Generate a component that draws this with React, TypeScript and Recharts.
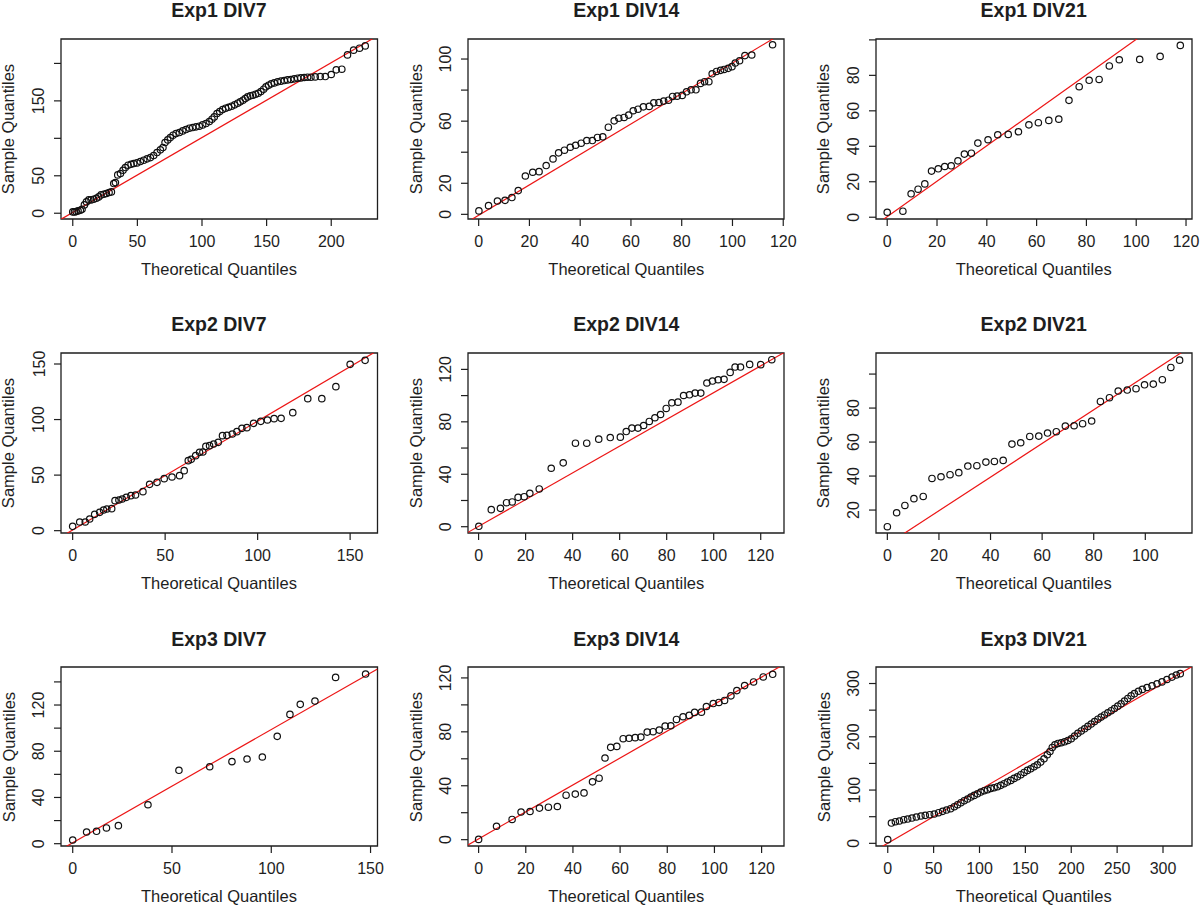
import { ScatterChart, Scatter, XAxis, YAxis, ReferenceLine, ReferenceArea } from "recharts";

// theoretical (x) and sample (y) quantiles
const exp1Div7X = [0, 1.3, 2.6, 4.1, 5.9, 7.2, 9.0, 10.6, 12.4, 14.2, 16.2, 18.3, 20.1, 21.9, 24.0, 26.0, 28.1, 29.9, 31.7, 33.0, 34.8, 36.9, 38.9, 40.7, 42.8, 45.1, 47.2, 49.7, 52.3, 54.9, 57.5, 60.1, 62.6, 65.2, 67.8, 69.8, 71.4, 73.5, 75.5, 77.6, 79.9, 82.5, 85.1, 87.6, 90.2, 92.8, 95.4, 97.9, 100.5, 103.1, 105.7, 107.7, 109.5, 111.6, 113.7, 116.0, 118.3, 120.6, 122.9, 125.3, 127.6, 129.6, 131.7, 133.5, 135.3, 137.4, 139.4, 141.5, 143.6, 145.6, 147.7, 149.5, 151.5, 153.6, 155.9, 158.5, 161.1, 163.7, 166.2, 168.8, 171.4, 174.0, 176.5, 179.1, 181.7, 184.3, 187.6, 191.5, 195.4, 200.0, 203.9, 208.2, 212.6, 217.3, 221.9, 226.3];
const exp1Div7Y = [1.8, 1.8, 2.2, 3.1, 4.0, 5.3, 11.1, 15.1, 17.8, 17.8, 18.7, 20.0, 21.8, 24.5, 25.4, 26.3, 27.6, 28.5, 39.6, 40.9, 51.2, 53.0, 57.4, 61.0, 64.1, 65.4, 66.3, 67.2, 69.0, 70.8, 72.6, 74.3, 77.0, 81.0, 84.6, 87.7, 94.4, 97.9, 101.0, 104.2, 106.4, 107.7, 109.9, 111.7, 113.5, 114.4, 115.3, 116.2, 117.9, 119.7, 122.4, 125.5, 128.6, 133.1, 135.8, 138.4, 140.2, 141.5, 142.9, 144.7, 146.9, 148.7, 150.9, 153.1, 155.3, 156.7, 157.6, 158.9, 160.2, 162.5, 165.6, 168.7, 170.9, 172.7, 174.0, 175.4, 176.3, 177.1, 178.0, 178.5, 179.4, 180.3, 180.7, 181.2, 181.6, 181.6, 182.0, 182.5, 182.5, 185.2, 191.4, 192.3, 211.4, 217.7, 220.3, 223.4];

const exp1Div14X = [0.1, 3.9, 7.4, 10.4, 13.1, 15.6, 18.4, 21.3, 23.8, 26.6, 29.3, 31.5, 33.8, 36.1, 38.2, 40.4, 42.6, 44.8, 46.8, 48.9, 51.1, 53.4, 55.2, 57.3, 59.1, 60.9, 62.8, 64.9, 67.2, 69, 71, 72.9, 74.8, 76.4, 78.2, 80.2, 81.9, 83.7, 85.6, 87.4, 89, 90.7, 92, 93.7, 95.3, 96.7, 98.3, 99.8, 101.1, 102.8, 104.9, 107.6, 115.8];
const exp1Div14Y = [2.2, 5.6, 8.6, 9, 10.8, 15.3, 24.7, 27.1, 27.5, 31.4, 35.7, 39.6, 41.3, 43.2, 44.5, 45.8, 47.5, 47.5, 49.5, 49.9, 56.1, 60.2, 61.9, 62.4, 63.9, 66.7, 67.7, 69.2, 69.5, 71.8, 72, 72.9, 73.5, 75.9, 76.1, 76.6, 78.9, 80.2, 80.2, 84.3, 85.4, 85.4, 90.5, 92, 92.7, 93.3, 94, 95.1, 97.4, 98.9, 102.2, 102.6, 109.2];

const exp1Div21X = [0, 6.3, 9.6, 12.4, 15.1, 17.8, 20.5, 23.1, 25.7, 28.4, 31, 33.8, 36.4, 40.5, 44.4, 48.6, 52.7, 56.9, 60.7, 64.9, 68.9, 73, 77.1, 81.1, 85.1, 89.2, 93.2, 101.4, 109.6, 117.7];
const exp1Div21Y = [2.8, 3.4, 13.2, 15.8, 18.8, 26, 27.3, 28.6, 29, 31.8, 35.6, 36.1, 41.8, 43.7, 46.5, 46.7, 48.2, 52.1, 53.3, 54.6, 55.3, 65.9, 73.6, 77.2, 77.7, 85.3, 88.8, 89, 90.7, 96.9];

const exp2Div7X = [0, 3.8, 6.8, 9.2, 11.9, 14.6, 16.7, 18.5, 21.1, 22.9, 25, 26.8, 29, 31.5, 34, 38, 41.6, 45.6, 49.5, 53.7, 57.8, 60.3, 62.5, 64.1, 66.5, 68.6, 70.4, 72, 74, 76.2, 78.7, 81, 83.4, 86.3, 88.8, 91.5, 94.2, 97.8, 101.7, 105.3, 108.9, 112.7, 119, 127.1, 134.7, 142.3, 150, 158.1];
const exp2Div7Y = [3.9, 7.8, 7.8, 10.5, 14.7, 16.5, 18.6, 19.5, 19.8, 27, 27.6, 28.5, 30, 31.5, 32.1, 35.1, 41.7, 43.5, 46.8, 48.3, 49.5, 54, 63, 64.2, 67.5, 70.5, 70.8, 75.9, 76.5, 78, 79.5, 85.5, 85.8, 87, 89.1, 92.1, 92.7, 96.6, 98.4, 99.6, 100.8, 101.1, 106.2, 118.8, 118.8, 129.6, 149.7, 153.3];

const exp2Div14X = [0.1, 5.4, 9.3, 11.9, 14.3, 16.8, 19.4, 21.8, 25.8, 30.9, 36, 41.2, 46, 51.1, 56, 60.3, 62.8, 65.2, 67.8, 70.2, 72.6, 75, 77.4, 79.8, 82.2, 84.8, 87.2, 89.7, 92.1, 94.5, 97.1, 99.5, 101.9, 104.4, 107, 109.1, 111.4, 115.3, 120, 124.7];
const exp2Div14Y = [0.3, 13, 14, 18.3, 18.9, 22.4, 22.9, 25.5, 28.8, 44.6, 48.7, 63.7, 63.7, 66.8, 68, 68.3, 72.6, 75.2, 75.2, 77.2, 80.3, 83.1, 85.6, 90.2, 94.5, 95, 100.1, 100.6, 101.9, 101.9, 109.6, 111.1, 112.1, 112.4, 117.7, 121.8, 121.8, 123.8, 123.6, 127.4];

const exp2Div21X = [0, 3.6, 6.8, 10.3, 13.9, 17.3, 20.8, 24.3, 27.7, 31.2, 34.7, 38.2, 41.5, 44.9, 48.3, 51.7, 55.2, 58.7, 62.1, 65.5, 69, 72.4, 75.7, 79.2, 82.6, 86.1, 89.5, 93, 96.4, 99.7, 103.1, 106.6, 109.9, 113.3];
const exp2Div21Y = [10.2, 18.4, 22.7, 26.7, 28, 38.6, 39.6, 40.8, 42, 45.9, 46.1, 48.2, 48.6, 49.2, 58.8, 59.6, 63.3, 63.5, 65.3, 66.1, 69.4, 69.6, 70.8, 72.4, 83.9, 86.1, 90, 90.6, 91.4, 93.7, 94.1, 96.7, 103.9, 108.2];

const exp3Div7X = [0, 7, 12, 17, 23, 37.9, 53.5, 69, 80.2, 87.8, 95.5, 103, 109.4, 114.6, 122, 132.4, 147.5];
const exp3Div7Y = [3.2, 10.1, 10.7, 13.6, 15.6, 33.7, 63.5, 66.6, 71, 73.3, 75, 92.9, 111.9, 120.6, 123.4, 143.9, 146.8];

const exp3Div14X = [0, 7.6, 14.2, 18, 21.8, 25.8, 29.6, 33.4, 37.1, 41, 44.7, 48.3, 51.1, 53.6, 56, 58.6, 61.3, 63.8, 66.4, 68.8, 71.5, 74, 76.6, 79.1, 81.5, 83.9, 86.7, 89.3, 91.6, 94.5, 96.6, 99.5, 101.9, 104.3, 107, 109.5, 112.8, 116.6, 120.7, 124.7];
const exp3Div14Y = [0.2, 9.9, 15, 20.5, 20.9, 23.4, 24.1, 24.6, 33, 33.8, 34.7, 42.9, 45.6, 60.6, 68.5, 69.2, 74.9, 75.2, 75.7, 76.1, 79.8, 80.1, 81.3, 84.3, 84.5, 89.2, 91.2, 92.2, 94.4, 94.6, 98.8, 101, 101.8, 103.3, 106.7, 110.6, 114.3, 117, 120.7, 122.7];

const exp3Div21X = [0, 4, 8.3, 12.7, 17.4, 21.7, 26.4, 31.2, 36.2, 40.9, 45.7, 50.7, 55.4, 59.8, 64.1, 68.5, 72.5, 76.1, 79.7, 83.3, 87, 90.6, 94.2, 97.8, 101.4, 105.1, 108.7, 112.3, 115.9, 119.6, 123.2, 126.8, 130.4, 134.1, 137.7, 141.3, 145, 148.6, 152.2, 155.8, 159.4, 163, 166.7, 170.3, 173.9, 176.8, 179.3, 182.2, 185.5, 189.1, 192.8, 196.4, 200, 203.6, 207.2, 210.9, 214.5, 218.1, 221.7, 225.4, 229, 232.6, 236.2, 239.9, 243.5, 247.1, 250.7, 254.3, 258, 261.6, 265.2, 268.8, 273.2, 277.5, 282.6, 288, 293.5, 298.9, 304.3, 309.8, 314.5, 318.8];
const exp3Div21Y = [6.9, 38.1, 40.6, 41.9, 44.4, 45.6, 47.5, 49.4, 51.3, 52.5, 53.8, 55, 57.5, 60, 62.5, 65, 68.8, 72.5, 76.3, 80, 83.1, 86.9, 90, 93.1, 96.3, 98.8, 100.6, 103.1, 104.4, 106.3, 108.8, 111.9, 115, 118.1, 121.9, 125, 128.8, 133.1, 136.9, 140, 143.8, 147.5, 152.5, 158.8, 166.3, 172.5, 180, 185, 187.5, 188.8, 190.6, 193.1, 196.3, 201.3, 206.5, 211, 215, 219.5, 224, 228.5, 233, 237, 241, 245, 249, 253, 257.5, 262, 267, 272, 277, 281, 285.5, 289, 292.5, 295.6, 299.5, 303, 307.5, 312, 316, 318.5];

// tick values
const ticks0to120 = [0, 20, 40, 60, 80, 100, 120];
const ticks0to200 = [0, 50, 100, 150, 200];
const ticks0to150 = [0, 50, 100, 150];

// qqline: intercept a, slope b
const panels = [
  { title: "Exp1 DIV7", x: exp1Div7X, y: exp1Div7Y, xDomain: [-9.1, 235.8], yDomain: [-7.7, 232.6], xTicks: ticks0to200, yTicks: ticks0to200, yLabels: [0, 50, 150], a: 1.0, b: 1.0 },
  { title: "Exp1 DIV14", x: exp1Div14X, y: exp1Div14Y, xDomain: [-4.2, 120.3], yDomain: [-3, 112.9], xTicks: ticks0to120, yTicks: [0, 20, 40, 60, 80, 100], yLabels: [0, 20, 60, 100], a: -0.6, b: 0.98 },
  { title: "Exp1 DIV21", x: exp1Div21X, y: exp1Div21Y, xDomain: [-4.5, 122.4], yDomain: [-1, 100.5], xTicks: ticks0to120, yTicks: [0, 20, 40, 60, 80, 100], yLabels: [0, 20, 40, 60, 80], a: 0.3, b: 1.0 },
  { title: "Exp2 DIV7", x: exp2Div7X, y: exp2Div7Y, xDomain: [-6.3, 164.8], yDomain: [-2.1, 159.9], xTicks: ticks0to150, yTicks: ticks0to150, yLabels: ticks0to150, a: 0.6, b: 0.98 },
  { title: "Exp2 DIV14", x: exp2Div14X, y: exp2Div14Y, xDomain: [-4.5, 129.9], yDomain: [-4.8, 132.5], xTicks: ticks0to120, yTicks: ticks0to120, yLabels: [0, 40, 80, 120], a: 0.3, b: 1.02 },
  { title: "Exp2 DIV21", x: exp2Div21X, y: exp2Div21Y, xDomain: [-4.4, 118.1], yDomain: [6.5, 112.4], xTicks: [0, 20, 40, 60, 80, 100], yTicks: [20, 40, 60, 80, 100], yLabels: [20, 40, 60, 80], a: -0.2, b: 0.99 },
  { title: "Exp3 DIV7", x: exp3Div7X, y: exp3Div7Y, xDomain: [-5.9, 153.5], yDomain: [-2, 152.9], xTicks: ticks0to150, yTicks: [0, 20, 40, 60, 80, 100, 120, 140], yLabels: [0, 40, 80, 120], a: 0.8, b: 0.98 },
  { title: "Exp3 DIV14", x: exp3Div14X, y: exp3Div14Y, xDomain: [-4.5, 129.5], yDomain: [-4.7, 128.1], xTicks: ticks0to120, yTicks: ticks0to120, yLabels: [0, 40, 80, 120], a: 0.6, b: 1.0 },
  { title: "Exp3 DIV21", x: exp3Div21X, y: exp3Div21Y, xDomain: [-12.8, 331.6], yDomain: [-5, 331], xTicks: [0, 50, 100, 150, 200, 250, 300], yTicks: [0, 50, 100, 150, 200, 250, 300], yLabels: [0, 100, 200, 300], a: 0.2, b: 1.0 },
];

// plot box layout (px)
const colLeft = [60.7, 468.3, 875.7];
const colWidth = [316.5, 316, 316];
const rowTop = [38.5, 352.5, 667];
const rowHeight = [180, 180, 179];

const INK = "#1e1e1e";
const RED = "#ec1515";
const FONT = "'Liberation Sans', Arial, Helvetica, sans-serif";

const XTick = (props: any) => (
  <text x={props.x} y={props.y} textAnchor="middle" dominantBaseline="central" fontSize={16} fill={INK} fontFamily={FONT}>
    {props.payload.value}
  </text>
);

const YTick = (props: any) => {
  if (!props.labels.includes(props.payload.value)) return <g />;
  return (
    <text
      x={props.x}
      y={props.y}
      transform={`rotate(-90 ${props.x} ${props.y})`}
      textAnchor="middle"
      dominantBaseline="central"
      fontSize={16}
      fill={INK}
      fontFamily={FONT}
    >
      {props.payload.value}
    </text>
  );
};

const Ring = (props: any) => <circle cx={props.cx} cy={props.cy} r={3.2} fill="none" stroke="#111" strokeWidth={1.2} />;

function QQPanel({ p, left, top, w, h }: any) {
  const data = p.x.map((x: number, i: number) => ({ x, y: p.y[i] }));
  const [x0, x1] = p.xDomain;
  const padL = 60, padT = 10, padR = 30, padB = 50;
  const label = { position: "absolute" as const, height: 20, lineHeight: "20px", textAlign: "center" as const, color: INK, fontFamily: FONT };
  return (
    <>
      <div style={{ ...label, left, top: top - 38.5, width: w, fontSize: 19.5, fontWeight: "bold" }}>{p.title}</div>
      <div style={{ ...label, left, top: top + h + 40, width: w, fontSize: 16.5 }}>Theoretical Quantiles</div>
      <div style={{ ...label, left: left - 52.5 - h / 2, top: top + h / 2 - 10, width: h, fontSize: 16.5, transform: "rotate(-90deg)" }}>
        Sample Quantiles
      </div>
      <div style={{ position: "absolute", left: left - padL, top: top - padT }}>
        <ScatterChart width={w + padL + padR} height={h + padT + padB} margin={{ top: padT, right: padR, bottom: 0, left: 0 }}>
          <XAxis
            type="number"
            dataKey="x"
            domain={p.xDomain}
            allowDataOverflow
            ticks={p.xTicks}
            interval={0}
            height={padB}
            tickSize={7}
            tickMargin={15}
            axisLine={false}
            tickLine={{ stroke: INK, strokeWidth: 1.2 }}
            tick={(t: any) => <XTick {...t} />}
          />
          <YAxis
            type="number"
            dataKey="y"
            domain={p.yDomain}
            allowDataOverflow
            ticks={p.yTicks}
            interval={0}
            width={padL}
            tickSize={7}
            tickMargin={15}
            axisLine={false}
            tickLine={{ stroke: INK, strokeWidth: 1.2 }}
            tick={(t: any) => <YTick {...t} labels={p.yLabels} />}
          />
          <Scatter data={data} shape={Ring} isAnimationActive={false} />
          <ReferenceLine
            segment={[{ x: x0, y: p.a + p.b * x0 }, { x: x1, y: p.a + p.b * x1 }]}
            stroke={RED}
            strokeWidth={1.2}
            ifOverflow="hidden"
          />
          <ReferenceArea
            x1={p.xDomain[0]}
            x2={p.xDomain[1]}
            y1={p.yDomain[0]}
            y2={p.yDomain[1]}
            fill="none"
            fillOpacity={0}
            stroke={INK}
            strokeWidth={1.3}
            ifOverflow="visible"
          />
        </ScatterChart>
      </div>
    </>
  );
}

export default function App() {
  return (
    <div style={{ position: "absolute", left: 0, top: 0, width: 1200, height: 905, background: "#fff", overflow: "hidden" }}>
      {panels.map((p, i) => (
        <QQPanel
          key={p.title}
          p={p}
          left={colLeft[i % 3]}
          top={rowTop[Math.floor(i / 3)]}
          w={colWidth[i % 3]}
          h={rowHeight[Math.floor(i / 3)]}
        />
      ))}
    </div>
  );
}
